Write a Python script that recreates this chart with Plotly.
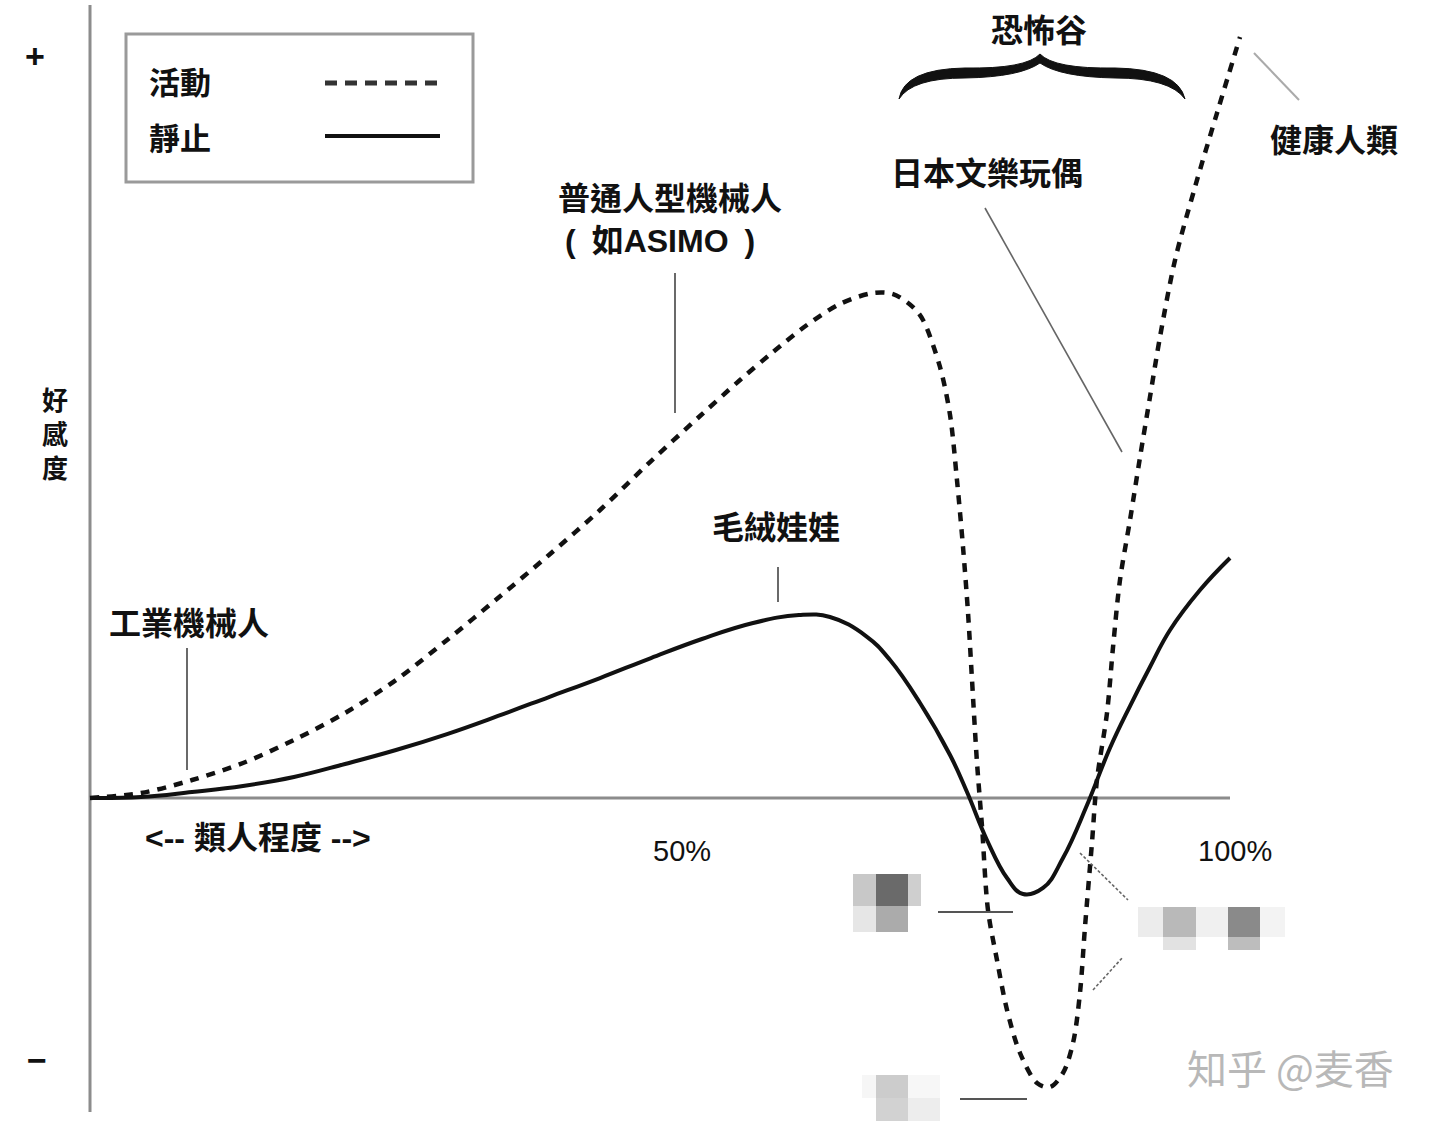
import plotly.graph_objects as go

# ---------------- data (likeness %, affinity) ----------------
likeness_static = [0, 4.47, 8.95, 13.42, 17.89, 22.37, 26.84, 31.32, 35.79, 40.26, 44.74, 49.21,
                   53.68, 58.16, 62.19, 64.91, 68.07, 70.18, 72.81, 75.44, 76.93, 78.68, 80.44,
                   81.84, 83.60, 85.35, 87.46, 89.47, 91.23, 92.98, 94.74, 97.37, 100.0]
affinity_static = [0, 0.13, 0.81, 1.62, 2.83, 4.58, 6.46, 8.61, 11.04, 13.59, 16.15, 18.84,
                   21.40, 23.55, 24.63, 24.36, 21.80, 18.57, 12.79, 5.79, 0.81, -5.65, -10.77,
                   -12.92, -12.11, -8.08, -0.94, 6.73, 12.38, 17.63, 22.61, 27.99, 32.30]

likeness_moving = [0, 4.47, 8.95, 13.42, 17.89, 22.37, 26.84, 31.32, 35.79, 40.26, 44.74, 49.12,
                   53.51, 57.02, 59.91, 62.89, 65.79, 68.68, 70.44, 72.19, 73.07, 74.56, 75.44,
                   76.05, 76.58, 77.02, 77.37, 77.81, 78.25, 78.77, 79.56, 80.44, 81.58, 83.07,
                   84.21, 85.35, 86.23, 86.84, 87.28, 87.89, 88.33, 89.21, 89.74, 90.35, 91.23,
                   92.11, 92.98, 93.86, 95.18, 96.93, 98.86, 100.88]
affinity_moving = [0, 0.67, 2.42, 4.71, 7.81, 11.44, 15.88, 21.27, 26.92, 32.71, 38.76, 45.22,
                   51.41, 56.26, 60.03, 63.66, 66.49, 67.97, 67.83, 66.08, 64.33, 58.01, 51.55,
                   42.80, 33.78, 24.90, 15.88, 4.71, -3.90, -15.07, -21.80, -28.53, -34.32, -38.36,
                   -38.90, -37.01, -32.97, -26.24, -17.36, -6.06, 2.42, 11.44, 20.32, 29.34, 37.42,
                   45.89, 53.97, 62.05, 72.41, 82.23, 92.19, 102.42]

legend_labels = ["活動", "靜止"]
tick_labels = ["50%", "100%"]
axis_label_x = "<-- 類人程度 -->"
axis_label_y = "好<br>感<br>度"
point_labels = ["工業機械人", "普通人型機械人", "(\u2002如ASIMO\u2002)", "毛絨娃娃",
                "日本文樂玩偶", "健康人類", "恐怖谷"]
watermark = "知乎 @麦香"

W, H = 1440, 1125
CJK = "Noto Sans CJK TC, Noto Sans CJK SC, sans-serif"
LAT = "Liberation Sans, Arial, Noto Sans CJK TC, sans-serif"


def X(px):
    return px / W


def Y(py):
    return 1 - py / H


fig = go.Figure()
fig.add_trace(go.Scatter(x=likeness_static, y=affinity_static, mode="lines",
                         line=dict(color="#111111", width=4, shape="spline", smoothing=1.2),
                         showlegend=False, hoverinfo="skip"))
fig.add_trace(go.Scatter(x=likeness_moving, y=affinity_moving, mode="lines",
                         line=dict(color="#111111", width=4.5, shape="spline", smoothing=0.9,
                                   dash="9px,8px"),
                         showlegend=False, hoverinfo="skip"))

shapes = []
AX = "#8c8c8c"
# y axis line
shapes.append(dict(type="line", xref="x", yref="paper", x0=0, x1=0, y0=Y(1112), y1=Y(5),
                   line=dict(color=AX, width=3), layer="below"))
# x axis line (zero)
shapes.append(dict(type="line", xref="x", yref="y", x0=0, x1=100, y0=0, y1=0,
                   line=dict(color=AX, width=3), layer="below"))
# legend box
shapes.append(dict(type="rect", xref="paper", yref="paper", x0=X(126), x1=X(473), y0=Y(182), y1=Y(34),
                   line=dict(color="#9a9a9a", width=3)))
shapes.append(dict(type="line", xref="paper", yref="paper", x0=X(325), x1=X(440), y0=Y(83), y1=Y(83),
                   line=dict(color="#333333", width=5, dash="12px,8px")))
shapes.append(dict(type="line", xref="paper", yref="paper", x0=X(325), x1=X(440), y0=Y(136), y1=Y(136),
                   line=dict(color="#111111", width=4)))


def seg(x0, y0, x1, y1, color="#555555", width=1.6, dash=None):
    ln = dict(color=color, width=width)
    if dash:
        ln["dash"] = dash
    shapes.append(dict(type="line", xref="paper", yref="paper", x0=X(x0), y0=Y(y0), x1=X(x1), y1=Y(y1),
                       line=ln))


# pointer lines
seg(187, 648, 187, 770, "#444444", 1.6)
seg(675, 273, 675, 413, "#444444", 1.6)
seg(778, 567, 778, 602, "#444444", 1.6)
seg(985, 208, 1122, 452, "#666666", 1.6)
seg(1254, 53, 1299, 100, "#aaaaaa", 2)
seg(938, 912, 1013, 912, "#555555", 2)
seg(960, 1099, 1027, 1099, "#555555", 2)
seg(1080, 853, 1128, 900, "#666666", 1.6, "3px,2px")
seg(1093, 990, 1123, 957, "#666666", 1.6, "3px,2px")


# curly brace (filled tapered path)
def pp(px, py):
    return f"{X(px):.5f},{Y(py):.5f}"


brace = ("M " + pp(899, 99) +
         " Q " + pp(904, 69) + " " + pp(965, 68) +
         " Q " + pp(1026, 69) + " " + pp(1040, 54) +
         " Q " + pp(1054, 69) + " " + pp(1115, 68) +
         " Q " + pp(1178, 69) + " " + pp(1185, 99) +
         " Q " + pp(1170, 78) + " " + pp(1115, 78) +
         " Q " + pp(1060, 77) + " " + pp(1040, 63) +
         " Q " + pp(1020, 77) + " " + pp(965, 78) +
         " Q " + pp(912, 78) + " " + pp(899, 99) + " Z")
shapes.append(dict(type="path", xref="paper", yref="paper", path=brace,
                   fillcolor="#111111", line=dict(color="#111111", width=1)))

# pixelated (censored) blocks
blocks = [
    (853, 874, 876, 906, "#c8c8c8"), (876, 874, 908, 906, "#6a6a6a"), (908, 874, 921, 906, "#cfcfcf"),
    (853, 906, 876, 932, "#e6e6e6"), (876, 906, 908, 932, "#ababab"),
    (1138, 907, 1163, 937, "#ececec"), (1163, 907, 1196, 937, "#b9b9b9"), (1196, 907, 1228, 937, "#f0f0f0"),
    (1228, 907, 1260, 937, "#8a8a8a"), (1260, 907, 1285, 937, "#f3f3f3"),
    (1163, 937, 1196, 950, "#e2e2e2"), (1228, 937, 1260, 950, "#bdbdbd"),
    (862, 1075, 876, 1098, "#f6f6f6"), (876, 1075, 908, 1098, "#cccccc"), (908, 1075, 940, 1098, "#f7f7f7"),
    (876, 1098, 908, 1121, "#d2d2d2"), (908, 1098, 940, 1121, "#ededed"),
]
for x0, y0, x1, y1, c in blocks:
    shapes.append(dict(type="rect", xref="paper", yref="paper", x0=X(x0), x1=X(x1), y0=Y(y1), y1=Y(y0),
                       fillcolor=c, line=dict(width=0), layer="below"))

annotations = []


def txt(text, px, py, size=32, family=CJK, color="#111111", weight=600, xanchor="center"):
    annotations.append(dict(text=text, x=X(px), y=Y(py), xref="paper", yref="paper", showarrow=False,
                            xanchor=xanchor, yanchor="middle",
                            font=dict(family=family, size=size, color=color, weight=weight)))


txt(legend_labels[0], 147, 80, size=31, xanchor="left")
txt(legend_labels[1], 147, 137, size=31, xanchor="left")
txt(point_labels[0], 189, 621)
txt(point_labels[1], 670, 196)
txt(point_labels[2], 660, 241, size=32, family=LAT, weight="bold")
txt(point_labels[3], 776, 525)
txt(point_labels[4], 987, 171)
txt(point_labels[5], 1334, 138)
txt(point_labels[6], 1039, 28)
txt(axis_label_x, 258, 838, size=32, family=LAT)
txt(tick_labels[0], 682, 851, size=29, family=LAT, color="#111111", weight="normal")
txt(tick_labels[1], 1235, 851, size=29, family=LAT, color="#111111", weight="normal")
txt("+", 35, 56, size=34, family=LAT, weight="bold")
txt("−", 37, 1060, size=34, family=LAT, weight="bold")
txt(axis_label_y, 55, 433, size=26)
txt(watermark, 1290, 1067, size=40, color="#b8b8b8", weight="normal", family="Noto Sans CJK SC, sans-serif")

fig.update_layout(
    width=W, height=H,
    margin=dict(l=0, r=0, t=0, b=0),
    paper_bgcolor="white", plot_bgcolor="white",
    xaxis=dict(visible=False, range=[-90 / 11.4, (W - 90) / 11.4], fixedrange=True),
    yaxis=dict(visible=False, range=[-(H - 798) / 7.43, 798 / 7.43], fixedrange=True),
    shapes=shapes, annotations=annotations, showlegend=False,
)

fig.write_html("out.html", config={"displayModeBar": False},
               post_script="document.body.style.margin='0';")
